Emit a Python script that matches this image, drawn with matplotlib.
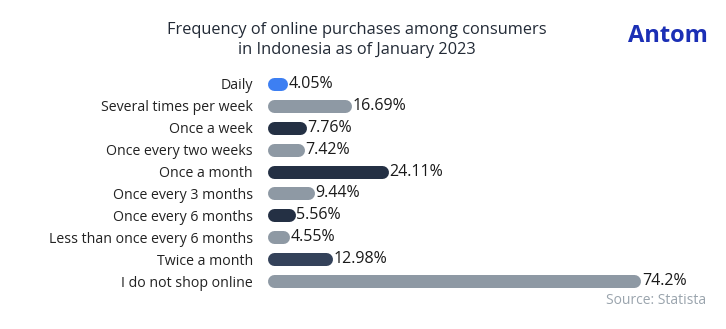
import numpy as np
import matplotlib.pyplot as plt

# ---------------- data ----------------
categories = ["Daily", "Several times per week", "Once a week", "Once every two weeks",
              "Once a month", "Once every 3 months", "Once every 6 months",
              "Less than once every 6 months", "Twice a month", "I do not shop online"]
values = [4.05, 16.69, 7.76, 7.42, 24.11, 9.44, 5.56, 4.55, 12.98, 74.2]
labels = ["4.05%", "16.69%", "7.76%", "7.42%", "24.11%", "9.44%", "5.56%",
          "4.55%", "12.98%", "74.2%"]
colors = ["#3d7ff2", "#8e99a4", "#243044", "#8e99a4", "#243044", "#8e99a4",
          "#243044", "#8e99a4", "#34425a", "#8e99a4"]

plt.rcParams['font.family'] = ['Open Sans', 'DejaVu Sans']

fig = plt.figure(figsize=(7.26, 3.29), dpi=100)
ax = fig.add_axes([267 / 726, 1 - 292 / 329, 449 / 726, 219 / 329])
ax.set_xlim(0, 449 / 5.04)
ax.set_ylim(len(categories) - 0.5, -0.5)

bar_px = 13
lw = bar_px * 72 / fig.dpi
r = (bar_px / 2) / 5.04  # cap radius in data units

y = np.arange(len(categories))
for i in range(len(categories)):
    ax.plot([r, values[i] - r], [y[i], y[i]], color=colors[i], lw=lw,
            solid_capstyle='round')
    ax.text(values[i] + 0.2, y[i], labels[i], va='center', ha='left',
            fontsize=11.5, color='#1a1a1a')

ax.set_yticks(y)
ax.set_yticklabels(categories, fontsize=10.2, color='#222222')
ax.tick_params(axis='y', length=0, pad=10)
ax.set_xticks([])
for s in ax.spines.values():
    s.set_visible(False)

fig.text(357 / 726, 1 - 40 / 329, "Frequency of online purchases among consumers\nin Indonesia as of January 2023",
         ha='center', va='center', fontsize=11.8, color='#222a36', linespacing=1.4)
fig.text(668 / 726, 1 - 36 / 329, "Antom", ha='center', va='center', fontsize=17,
         fontweight='bold', color='#1b2fb5')
fig.text(706 / 726, 1 - 300 / 329, "Source: Statista", ha='right', va='center',
         fontsize=10, color='#9aa4ad')

fig.savefig("out.png", dpi=100)
